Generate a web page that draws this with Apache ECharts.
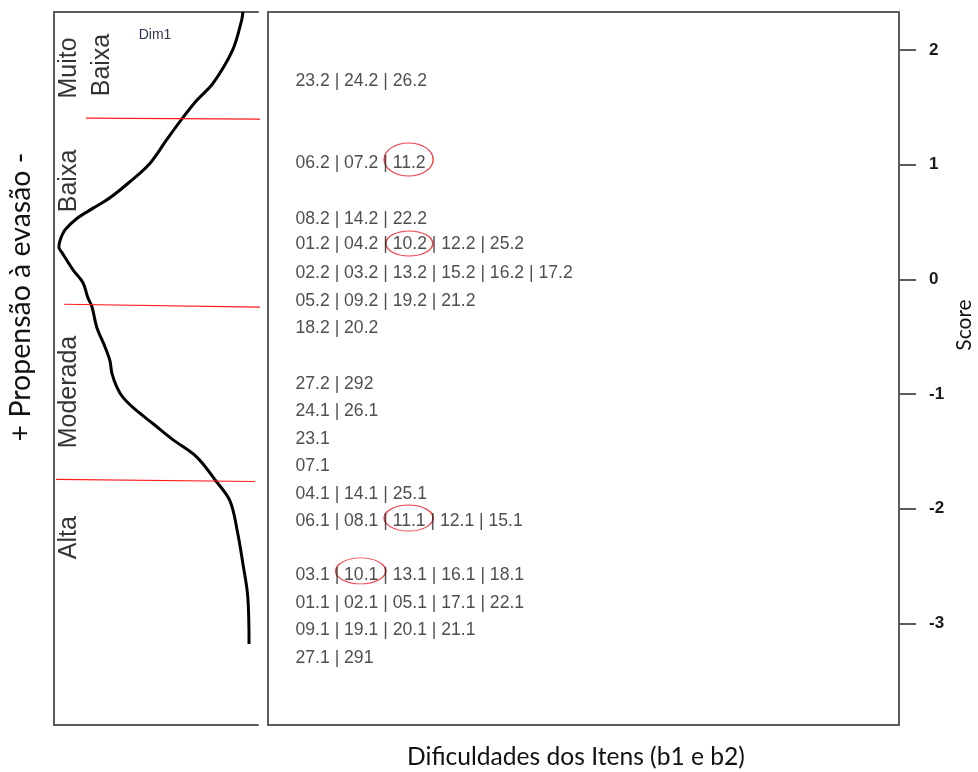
<!DOCTYPE html>
<html>
<head>
<meta charset="utf-8">
<script src="https://cdn.jsdelivr.net/npm/echarts@6/dist/echarts.min.js"></script>
<style>html,body{margin:0;padding:0;background:#fff}#c{width:978px;height:772px}</style>
</head>
<body>
<div id="c"></div>
<script>
// ---------------- DATA ----------------
// Item rows (item difficulty thresholds b1 / b2), top to bottom
const itemRows = [
  '23.2 | 24.2 | 26.2',
  '06.2 | 07.2 | 11.2',
  '08.2 | 14.2 | 22.2',
  '01.2 | 04.2 | 10.2 | 12.2 | 25.2',
  '02.2 | 03.2 | 13.2 | 15.2 | 16.2 | 17.2',
  '05.2 | 09.2 | 19.2 | 21.2',
  '18.2 | 20.2',
  '27.2 | 292',
  '24.1 | 26.1',
  '23.1',
  '07.1',
  '04.1 | 14.1 | 25.1',
  '06.1 | 08.1 | 11.1 | 12.1 | 15.1',
  '03.1 | 10.1 | 13.1 | 16.1 | 18.1',
  '01.1 | 02.1 | 05.1 | 17.1 | 22.1',
  '09.1 | 19.1 | 20.1 | 21.1',
  '27.1 | 291'
];
// Score (logit) of each row
const itemScores = [1.729, 1.010, 0.521, 0.303, 0.055, -0.194, -0.425, -0.913, -1.148,
  -1.397, -1.632, -1.876, -2.112, -2.582, -2.827, -3.062, -3.306];
// Items circled in red
const highlightItems = ['11.2', '10.2', '11.1', '10.1'];

// Person distribution (Dim1) : score and density
const densityScore = [2.33, 2.26, 2.00, 1.71, 1.56, 1.40, 1.21, 1.01, 0.85, 0.71, 0.62, 0.53,
  0.43, 0.34, 0.28, 0.23, 0.08, -0.03, -0.16, -0.24, -0.42, -0.59, -0.71, -0.82, -0.94,
  -1.03, -1.12, -1.26, -1.40, -1.55, -1.75, -1.93, -2.19, -2.48, -2.77, -3.18];
const densityValue = [0.037, 0.040, 0.062, 0.110, 0.150, 0.186, 0.225, 0.265, 0.314, 0.363,
  0.404, 0.444, 0.473, 0.485, 0.488, 0.480, 0.453, 0.429, 0.417, 0.407, 0.395, 0.375, 0.363,
  0.358, 0.346, 0.331, 0.306, 0.257, 0.208, 0.150, 0.105, 0.069, 0.051, 0.037, 0.025, 0.022];

// Cut points between propensity bands (score at left end / right end of each red line)
const cutScoreStart = [1.405, -0.218, -1.745];
const cutScoreEnd = [1.396, -0.244, -1.763];
const cutDensityStart = [0.4216, 0.4755, 0.4951];
const cutDensityEnd = [-0.0098, -0.0098, 0.0074];

// Band names
const bandNames = ['Muito', 'Baixa', 'Baixa', 'Moderada', 'Alta'];
const bandScores = [1.842, 1.868, 0.857, -0.983, -2.253];
const bandDensity = [0.4620, 0.3830, 0.4620, 0.4620, 0.4620];

// Score axis ticks
const scoreTicks = [2, 1, 0, -1, -2, -3];

// ---------------- LAYOUT / STYLE ----------------
const SCORE_MIN = -3.886, SCORE_MAX = 2.330;
const RIGHT_W = 631;             // right panel x-axis in pixel units
const ITEM_X = 27;               // text start inside right panel
const ITEM_FS = 17.6;
const ITEM_FAMILY = 'Liberation Sans';
const SEP = ' | ';
const BORDER = { color: '#5c5c5c', width: 2 };
const ellipseSize = [[49, 33], [47, 25], [49, 26], [50, 26]];
const ellipseOffset = [-4, -1, -3.5, -4.5];

const cv = document.createElement('canvas').getContext('2d');
function tw(s) { cv.font = ITEM_FS + 'px "' + ITEM_FAMILY + '"'; return cv.measureText(s).width; }

const ellipseData = highlightItems.map((it, k) => {
  const r = itemRows.findIndex(row => row.split(SEP).includes(it));
  const parts = itemRows[r].split(SEP);
  const idx = parts.indexOf(it);
  const prefix = parts.slice(0, idx).join(SEP) + (idx > 0 ? SEP : '');
  return {
    value: [ITEM_X + tw(prefix) + tw(it) / 2, itemScores[r]],
    symbolSize: ellipseSize[k],
    symbolOffset: [0, ellipseOffset[k]]
  };
});

const ELLIPSE = 'path://M0,50 C0,22.4 22.4,0 50,0 C77.6,0 100,22.4 100,50 C100,77.6 77.6,100 50,100 C22.4,100 0,77.6 0,50 Z';

const hidden = { show: false };
function xAx(grid, pos, opt) {
  return Object.assign({
    type: 'value', gridIndex: grid, position: pos,
    axisLine: { show: true, onZero: false, lineStyle: BORDER },
    axisTick: hidden, axisLabel: hidden, splitLine: hidden
  }, opt);
}
function yAx(grid, pos, opt) {
  return Object.assign({
    type: 'value', gridIndex: grid, position: pos, min: SCORE_MIN, max: SCORE_MAX,
    axisLine: { show: true, onZero: false, lineStyle: BORDER },
    axisTick: hidden, axisLabel: hidden, splitLine: hidden
  }, opt);
}

const cutSeries = cutScoreStart.map((s, i) => ({
  type: 'line', xAxisIndex: 0, yAxisIndex: 0, clip: false, symbol: 'none', silent: true,
  data: [[cutDensityStart[i], s], [cutDensityEnd[i], cutScoreEnd[i]]],
  lineStyle: { color: '#ff1a1a', width: 1.2 }
}));

const option = {
  animation: false,
  backgroundColor: '#ffffff',
  grid: [
    { left: 54, top: 12, width: 204, height: 713 },
    { left: 268, top: 12, width: RIGHT_W, height: 713 }
  ],
  xAxis: [
    xAx(0, 'bottom', { min: 0, max: 0.5, inverse: true }),
    xAx(0, 'top', { min: 0, max: 0.5, inverse: true }),
    xAx(1, 'bottom', { min: 0, max: RIGHT_W }),
    xAx(1, 'top', { min: 0, max: RIGHT_W })
  ],
  yAxis: [
    yAx(0, 'left'),
    yAx(1, 'left'),
    yAx(1, 'right', {
      axisTick: { show: true, inside: false, length: 17, lineStyle: BORDER, customValues: scoreTicks },
      axisLabel: {
        show: true, customValues: scoreTicks, margin: 30, color: '#1a1a1a',
        fontFamily: ITEM_FAMILY, fontSize: 17, fontWeight: 'bold', align: 'left'
      }
    })
  ],
  graphic: [
    { type: 'text', x: 155, y: 35, style: { text: 'Dim1', fontFamily: ITEM_FAMILY, fontSize: 14,
      fill: '#2f3450', align: 'center', verticalAlign: 'middle', textAlign: 'center', textVerticalAlign: 'middle' } },
    { type: 'text', x: 576, y: 757, style: { text: 'Dificuldades dos Itens (b1 e b2)', fontFamily: 'Lato', fontSize: 24.6,
      fill: '#111', align: 'center', verticalAlign: 'middle', textAlign: 'center', textVerticalAlign: 'middle' } },
    { type: 'text', x: 21, y: 297, rotation: Math.PI / 2, style: { text: '+ Propensão à evasão -', fontFamily: 'Lato', fontSize: 28.5,
      fill: '#111', align: 'center', verticalAlign: 'middle', textAlign: 'center', textVerticalAlign: 'middle' } },
    { type: 'text', x: 964, y: 325, rotation: Math.PI / 2, style: { text: 'Score', fontFamily: 'Lato', fontSize: 21,
      fill: '#111', align: 'center', verticalAlign: 'middle', textAlign: 'center', textVerticalAlign: 'middle' } }
  ],
  series: [
    {
      type: 'line', xAxisIndex: 0, yAxisIndex: 0, symbol: 'none', clip: false, silent: true,
      smooth: 0.35,
      data: densityScore.map((s, i) => [densityValue[i], s]),
      lineStyle: { color: '#000', width: 3 }
    },
    ...cutSeries,
    {
      type: 'scatter', xAxisIndex: 0, yAxisIndex: 0, symbolSize: 1, silent: true,
      itemStyle: { color: 'rgba(0,0,0,0)' },
      data: bandNames.map((n, i) => ({ value: [bandDensity[i], bandScores[i]], name: n })),
      label: {
        show: true, position: 'inside', rotate: 90, formatter: p => p.name,
        fontFamily: ITEM_FAMILY, fontSize: 25, color: '#000', align: 'center', verticalAlign: 'middle'
      }
    },
    {
      type: 'scatter', xAxisIndex: 2, yAxisIndex: 1, symbolSize: 1, silent: true,
      itemStyle: { color: 'rgba(0,0,0,0)' },
      data: itemRows.map((r, i) => ({ value: [ITEM_X, itemScores[i]], name: r })),
      label: {
        show: true, position: 'right', distance: 0, formatter: p => p.name,
        fontFamily: ITEM_FAMILY, fontSize: ITEM_FS, color: '#222', align: 'left', verticalAlign: 'middle'
      }
    },
    {
      type: 'scatter', xAxisIndex: 2, yAxisIndex: 1, symbol: ELLIPSE, silent: true,
      itemStyle: { color: 'rgba(0,0,0,0)', borderColor: '#e8141c', borderWidth: 1.2 },
      data: ellipseData
    }
  ]
};
const chart = echarts.init(document.getElementById('c'));
chart.setOption(option);
</script>
</body>
</html>
